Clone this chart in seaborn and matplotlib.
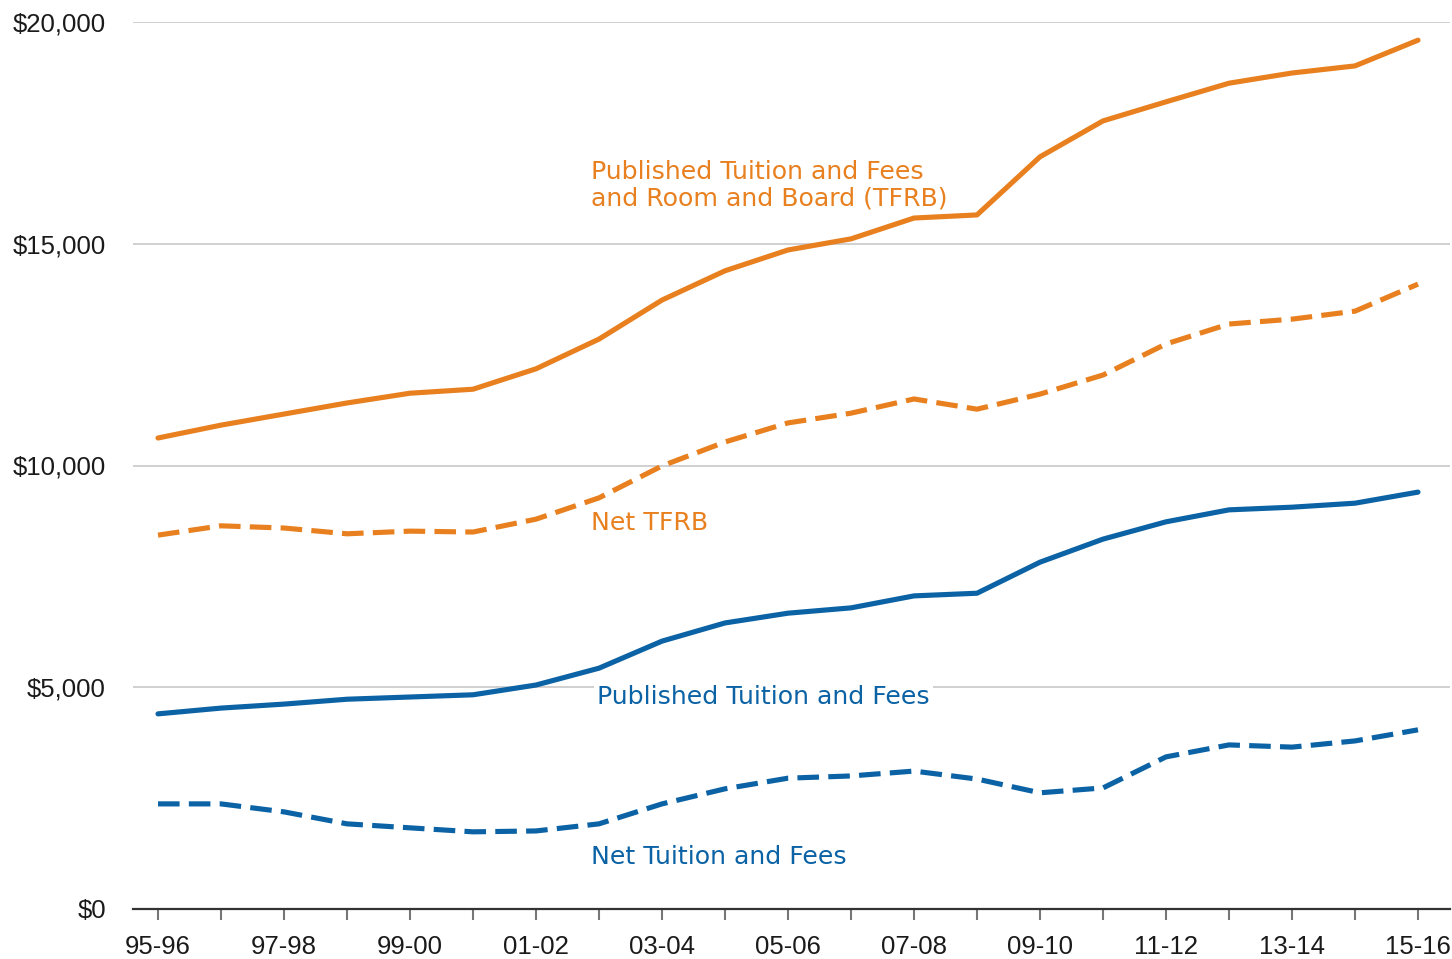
import pandas as pd
import seaborn as sns
import matplotlib
matplotlib.use('Agg')
import matplotlib.pyplot as plt

# data
years = ['95-96', '96-97', '97-98', '98-99', '99-00', '00-01', '01-02', '02-03',
         '03-04', '04-05', '05-06', '06-07', '07-08', '08-09', '09-10', '10-11',
         '11-12', '12-13', '13-14', '14-15', '15-16']
published_tfrb = [10620, 10910, 11160, 11410, 11630, 11720, 12180, 12850, 13730, 14390,
                  14860, 15110, 15580, 15650, 16960, 17770, 18200, 18620, 18850, 19010, 19590]
net_tfrb = [8430, 8640, 8590, 8460, 8520, 8500, 8790, 9270, 9990, 10530,
            10960, 11180, 11500, 11270, 11610, 12040, 12740, 13190, 13300, 13480, 14090]
published_tf = [4400, 4530, 4620, 4730, 4780, 4830, 5050, 5430, 6040, 6450,
                6670, 6790, 7060, 7120, 7820, 8340, 8730, 9000, 9060, 9150, 9400]
net_tf = [2370, 2370, 2190, 1920, 1830, 1740, 1760, 1920, 2370, 2710,
          2950, 3000, 3110, 2930, 2620, 2730, 3430, 3700, 3650, 3790, 4040]

orange = '#E8801F'
blue = '#0B62A4'

df = pd.DataFrame({'idx': range(len(years)),
                   'pub_tfrb': published_tfrb, 'net_tfrb': net_tfrb,
                   'pub_tf': published_tf, 'net_tf': net_tf})

sns.set_style('white')
plt.rcParams['font.family'] = ['Liberation Sans', 'DejaVu Sans']

fig = plt.figure(figsize=(14.52, 9.59), dpi=100)
ax = fig.add_axes([133 / 1452, 1 - 909 / 959, (1450 - 133) / 1452, (909 - 22) / 959])

series = [('pub_tfrb', orange, False), ('net_tfrb', orange, True),
          ('pub_tf', blue, False), ('net_tf', blue, True)]
for col, color, dashed in series:
    sns.lineplot(data=df, x='idx', y=col, ax=ax, color=color, linewidth=3.7)
    l = ax.lines[-1]
    l.set_solid_joinstyle('round')
    l.set_solid_capstyle('round')
    if dashed:
        l.set_dashes((4.2, 1.8))
        l.set_dash_capstyle('butt')

ax.set_xlim(-25 / 63, 20 + 32 / 63)
ax.set_ylim(0, 20000)
ax.set_yticks([0, 5000, 10000, 15000, 20000])
ax.set_yticklabels(['$0', '$5,000', '$10,000', '$15,000', '$20,000'])
ax.set_xticks(range(len(years)))
ax.set_xticklabels([y if i % 2 == 0 else '' for i, y in enumerate(years)])
ax.set_xlabel('')
ax.set_ylabel('')

ax.grid(axis='y', color='#c8c8c8', linewidth=1.2)
ax.set_axisbelow(True)
for s in ['top', 'right', 'left']:
    ax.spines[s].set_visible(False)
ax.spines['bottom'].set_color('#333333')
ax.spines['bottom'].set_linewidth(1.6)
ax.spines['bottom'].set_zorder(5)

ax.tick_params(axis='x', bottom=True, length=8, width=1.5, color='#777777',
               pad=11, labelsize=18.5, labelcolor='#1a1a1a')
ax.tick_params(axis='y', left=False, pad=16, labelsize=18.5, labelcolor='#1a1a1a')

lab = dict(fontsize=18.2, family=['DejaVu Sans'], ha='left', va='center')
ax.text(6.87, 16320, 'Published Tuition and Fees\nand Room and Board (TFRB)',
        color=orange, linespacing=1.1, **lab)
ax.text(6.87, 8700, 'Net TFRB', color=orange, **lab)
ax.text(6.97, 4780, 'Published Tuition and Fees', color=blue,
        bbox=dict(facecolor='white', edgecolor='none', pad=2), zorder=4, **lab)
ax.text(6.87, 1170, 'Net Tuition and Fees', color=blue, **lab)

fig.savefig('out.png', dpi=100)
